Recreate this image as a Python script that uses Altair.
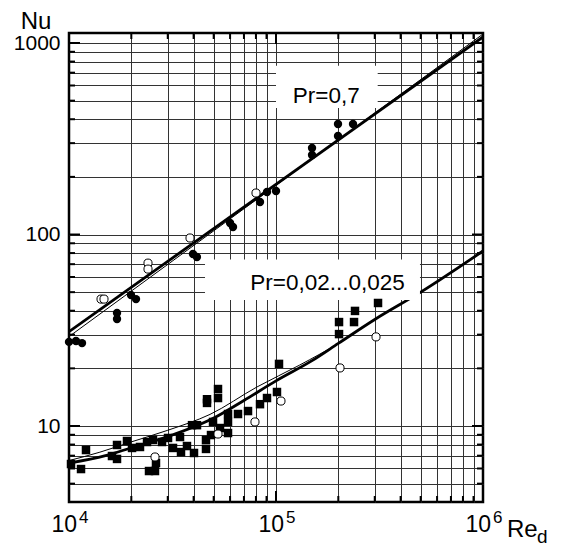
import altair as alt
import pandas as pd

# ---------------- data ----------------
# Pr = 0.7 : filled circles
air_fill_re = [10000, 10810, 11560, 17060, 17060, 19930, 21070, 39720, 41490, 59980,
               61990, 83700, 90480, 100000, 149300, 149300, 199300, 235500, 199300]
air_fill_nu = [27.5, 27.8, 27.1, 38.9, 36.2, 48.3, 46.0, 79.1, 76.3, 114.8,
               109.4, 147.8, 166.7, 168.7, 283, 260, 377.6, 377.6, 326.7]
# Pr = 0.7 : open circles
air_open_re = [14280, 14760, 24080, 24080, 38420, 80060]
air_open_nu = [46.0, 46.0, 70.9, 66.0, 95.9, 164.7]

# Pr = 0.02...0.025 : filled squares
lm_fill_re = [10225, 11430, 12080, 16130, 17060, 17060, 19060, 20160, 22030, 23820,
              25460, 28140, 30090, 31800, 34380, 34760, 37150, 40170, 39290, 41530,
              24350, 26030, 26320, 45900, 45900, 48530, 49630, 53640, 58640, 58640,
              58640, 46420, 46420, 52460, 52460, 65530, 73250, 83700, 90480, 101100,
              103400, 201600, 240800, 238200, 201600, 311100]
lm_fill_nu = [6.33, 5.96, 7.49, 6.97, 7.96, 6.73, 8.35, 7.68, 7.77, 8.25,
              8.45, 8.25, 8.66, 7.68, 8.76, 7.31, 7.86, 7.23, 10.1, 10.1,
              5.82, 5.82, 6.41, 8.45, 7.59, 8.97, 10.5, 9.76, 9.19, 10.5,
              11.55, 13.8, 13.2, 15.6, 14.0, 11.55, 11.97, 13.0, 14.0, 15.05,
              21.1, 34.9, 39.9, 34.9, 30.2, 43.9]
# Pr = 0.02...0.025 : open circles
lm_open_re = [26030, 52460, 79150, 105700, 203800, 304200]
lm_open_nu = [6.89, 9.08, 10.5, 13.5, 20.1, 29.2]

# correlation curves
air_thick_re = [10000, 1000000]
air_thick_nu = [31.1, 1075]
air_thin_re = [10000, 1000000]
air_thin_nu = [29.3, 1114]
lm_thick_re = [10000, 15000, 20000, 30000, 50000, 70000, 100000, 150000, 200000, 300000, 500000, 1000000]
lm_thick_nu = [6.4, 7.0, 7.7, 8.8, 11.0, 13.6, 17.2, 22.0, 27.0, 36.0, 50.0, 82.0]
lm_thin_re = [10000, 14100, 20000, 30000, 48000, 81000, 130000, 200000, 300000, 500000, 1000000]
lm_thin_nu = [6.6, 7.3, 8.26, 9.5, 11.5, 16.0, 20.8, 27.0, 36.0, 50.0, 82.0]

# grid / tick values
x_grid = [20000, 30000, 40000, 50000, 60000, 70000, 80000, 90000, 100000,
          200000, 300000, 400000, 500000, 600000, 700000, 800000, 900000]
x_major = [10000, 100000, 1000000]
y_grid = [5, 6, 7, 8, 9, 10, 20, 30, 40, 50, 60, 70, 80, 90, 100,
          200, 300, 400, 500, 600, 700, 800, 900, 1000]
y_major = [10, 100, 1000]
x_label_exp = ["4", "5", "6"]

# label boxes
box_re = [100000, 45400]
box_re2 = [310000, 496000]
box_nu = [458, 45.5]
box_nu2 = [760, 74]
lab_text = ["Pr=0,7", "Pr=0,02...0,025"]
lab_re = [175000, 177400]
lab_nu = [486, 51.3]

# ---------------- chart ----------------
W, H = 414, 469
FONT = "Liberation Sans"
xs = alt.Scale(type="log", domain=[10000, 1000000], nice=False)
ys = alt.Scale(type="log", domain=[4.01, 1128], nice=False)

xaxis = alt.Axis(values=x_grid, grid=True, labels=False, ticks=False, tickSize=0,
                 domain=False, title=None, gridColor="#333333", gridWidth=1)
yaxis = alt.Axis(values=y_grid, grid=True, ticks=False, tickSize=0, domain=False,
                 gridColor="#333333", gridWidth=1,
                 labelExpr="datum.value == 10 || datum.value == 100 || datum.value == 1000 ? format(datum.value, 'd') : ''",
                 labelFont=FONT, labelFontSize=21, labelColor="black", labelPadding=9,
                 title="Nu", titleAngle=0, titleX=-33.5, titleY=-5, titleAlign="center",
                 titleBaseline="alphabetic", titleFont=FONT, titleFontSize=24,
                 titleFontWeight="normal", titleColor="black")


def X(f="re"):
    return alt.X(f"{f}:Q", scale=xs, axis=xaxis)


def Y(f="nu"):
    return alt.Y(f"{f}:Q", scale=ys, axis=yaxis)


def df(re, nu):
    return pd.DataFrame({"re": re, "nu": nu})


layers = []

# invisible base layer carrying the axes/grid
layers.append(alt.Chart(df(air_fill_re, air_fill_nu)).mark_point(opacity=0).encode(x=X(), y=Y()))

# inward ticks
ygrid_minor = [v for v in y_grid if v not in y_major]
xgrid_minor = [v for v in x_grid if v not in x_major]
yt_min = pd.DataFrame({"nu": ygrid_minor})
yt_maj = pd.DataFrame({"nu": y_major})
xt_min = pd.DataFrame({"re": xgrid_minor})
xt_maj = pd.DataFrame({"re": x_major})
tk = dict(color="black", strokeWidth=2)
for d, L in [(yt_min, 6), (yt_maj, 11)]:
    layers.append(alt.Chart(d).mark_rule(**tk).encode(y=Y(), x=alt.value(0), x2=alt.value(L)))
    layers.append(alt.Chart(d).mark_rule(**tk).encode(y=Y(), x=alt.value(W - L), x2=alt.value(W)))
for d, L in [(xt_min, 6), (xt_maj, 11)]:
    layers.append(alt.Chart(d).mark_rule(**tk).encode(x=X(), y=alt.value(0), y2=alt.value(L)))
    layers.append(alt.Chart(d).mark_rule(**tk).encode(x=X(), y=alt.value(H - L), y2=alt.value(H)))

# curves
layers.append(alt.Chart(df(air_thin_re, air_thin_nu)).mark_line(color="black", strokeWidth=1, clip=True).encode(x=X(), y=Y()))
layers.append(alt.Chart(df(lm_thin_re, lm_thin_nu)).mark_line(color="black", strokeWidth=1, interpolate="monotone", clip=True).encode(x=X(), y=Y()))
layers.append(alt.Chart(df(air_thick_re, air_thick_nu)).mark_line(color="black", strokeWidth=2.8, clip=True).encode(x=X(), y=Y()))
layers.append(alt.Chart(df(lm_thick_re, lm_thick_nu)).mark_line(color="black", strokeWidth=2.8, interpolate="monotone", clip=True).encode(x=X(), y=Y()))

# white label boxes and label text
boxes = pd.DataFrame({"re": box_re, "re2": box_re2, "nu": box_nu, "nu2": box_nu2})
layers.append(alt.Chart(boxes).mark_rect(color="white").encode(
    x=X(), x2="re2:Q", y=Y(), y2="nu2:Q"))
labs = pd.DataFrame({"re": lab_re, "nu": lab_nu, "t": lab_text})
layers.append(alt.Chart(labs).mark_text(font=FONT, fontSize=22.5, align="center", baseline="alphabetic", color="black").encode(
    x=X(), y=Y(), text="t:N"))

# points
layers.append(alt.Chart(df(air_fill_re, air_fill_nu)).mark_point(shape="circle", filled=True, color="black", size=70, opacity=1).encode(x=X(), y=Y()))
layers.append(alt.Chart(df(lm_fill_re, lm_fill_nu)).mark_point(shape="square", filled=True, color="black", size=72, opacity=1).encode(x=X(), y=Y()))
layers.append(alt.Chart(df(air_open_re + lm_open_re, air_open_nu + lm_open_nu)).mark_point(
    shape="circle", filled=True, fill="white", stroke="black", strokeWidth=1, size=66, opacity=1).encode(x=X(), y=Y()))

# x-axis labels 10^n
xl = pd.DataFrame({"re": x_major, "e": x_label_exp})
layers.append(alt.Chart(xl).mark_text(font=FONT, fontSize=23, align="right", baseline="alphabetic", dx=8, color="black").encode(
    x=X(), y=alt.value(H + 30), text=alt.value("10")))
layers.append(alt.Chart(xl).mark_text(font=FONT, fontSize=17, align="left", baseline="alphabetic", dx=10, color="black").encode(
    x=X(), y=alt.value(H + 21), text="e:N"))

# x-axis title Re_d
tdf = pd.DataFrame({"t": ["Re"], "s": ["d"]})
layers.append(alt.Chart(tdf).mark_text(font=FONT, fontSize=24, align="left", baseline="alphabetic", color="black").encode(
    x=alt.value(W + 24), y=alt.value(H + 35), text="t:N"))
layers.append(alt.Chart(tdf).mark_text(font=FONT, fontSize=19, align="left", baseline="alphabetic", color="black").encode(
    x=alt.value(W + 54), y=alt.value(H + 41), text="s:N"))

chart = alt.layer(*layers).properties(
    width=W, height=H,
    padding={"left": 61, "top": 25, "right": 72, "bottom": 45},
    autosize=alt.AutoSizeParams(type="none"),
    background="white",
).configure_view(stroke="black", strokeWidth=2.5)

chart.save("out.html", embed_options={"renderer": "svg", "actions": False})
